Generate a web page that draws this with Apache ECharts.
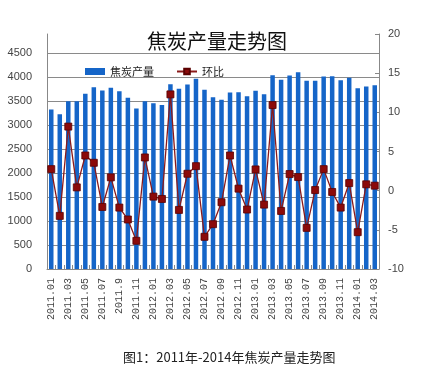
<!DOCTYPE html>
<html>
<head>
<meta charset="utf-8">
<script src="https://cdn.jsdelivr.net/npm/echarts@6/dist/echarts.min.js"></script>
<style>
html,body{margin:0;padding:0;background:#fff;}
#chart{width:422px;height:374px;}
</style>
</head>
<body>
<div id="chart"></div>
<script>
const categories = [
  "2011.01","2011.02","2011.03","2011.04","2011.05","2011.06","2011.07","2011.08","2011.9","2011.10","2011.11","2011.12",
  "2012.01","2012.02","2012.03","2012.04","2012.05","2012.06","2012.07","2012.08","2012.09","2012.10","2012.11","2012.12",
  "2013.01","2013.02","2013.03","2013.04","2013.05","2013.06","2013.07","2013.08","2013.09","2013.10","2013.11","2013.12",
  "2014.01","2014.02","2014.03"
];
const production = [
  3327,3229,3500,3500,3653,3792,3722,3778,3708,3569,3347,3500,
  3458,3417,3854,3757,3847,3965,3736,3583,3528,3681,3688,3604,
  3715,3646,4042,3944,4035,4104,3924,3924,4014,4021,3938,3986,
  3771,3806,3833
];
const momChange = [
  2.75,-3.22,8.18,0.42,4.49,3.56,-2.08,1.70,-2.16,-3.68,-6.40,4.24,
  -0.76,-1.06,12.29,-2.46,2.16,3.13,-5.89,-4.28,-1.48,4.49,0.26,-2.41,
  2.71,-1.78,10.93,-2.59,2.12,1.74,-4.75,0.08,2.75,-0.17,-2.16,0.97,
  -5.30,0.81,0.64
];
const seriesNames = ["焦炭产量","环比"];
const titleText = "焦炭产量走势图";
const captionText = "图1：2011年-2014年焦炭产量走势图";

const chart = echarts.init(document.getElementById('chart'), null, {renderer:'canvas'});
const sans = '"Noto Sans CJK SC", "Liberation Sans", sans-serif';
chart.setOption({
  animation:false,
  backgroundColor:'#ffffff',
  title:{
    text:titleText, left:212, top:26, textAlign:'center',
    textStyle:{fontFamily:sans, fontSize:20, fontWeight:'normal', color:'#111'}
  },
  legend:{
    left:80, top:61, itemWidth:20, itemHeight:7, itemGap:22,
    textStyle:{fontFamily:sans, fontSize:11, color:'#222'},
    data:[{name:seriesNames[0], icon:'rect'},{name:seriesNames[1]}]
  },
  grid:{left:47, right:43, top:34, bottom:105},
  xAxis:{
    type:'category', data:categories, boundaryGap:true,
    axisLine:{lineStyle:{color:'#888'}},
    axisTick:{show:true, inside:true, length:4, interval:0, lineStyle:{color:'#888'}},
    axisLabel:{interval:1, rotate:90, margin:9, fontFamily:'"Liberation Mono", monospace', fontSize:10, color:'#444'}
  },
  yAxis:[
    {
      type:'value', min:0, max:4900, interval:500, position:'left',
      axisLine:{show:true, lineStyle:{color:'#888'}},
      axisTick:{show:false},
      axisLabel:{showMaxLabel:false, margin:15, formatter:function(v){return String(v);}, fontFamily:'"Liberation Sans", sans-serif', fontSize:11, color:'#444'},
      splitLine:{show:true, showMaxLine:false, lineStyle:{color:'#8a8a8a', width:1}}
    },
    {
      type:'value', min:-10, max:20, interval:5, position:'right',
      axisLine:{show:true, lineStyle:{color:'#888'}},
      axisTick:{show:true, inside:true, length:4, lineStyle:{color:'#888'}},
      axisLabel:{margin:9, formatter:function(v){return String(v);}, fontFamily:'"Liberation Sans", sans-serif', fontSize:11, color:'#444'},
      splitLine:{show:false}
    }
  ],
  series:[
    {
      name:seriesNames[0], type:'bar', yAxisIndex:0, data:production,
      barWidth:4.5, itemStyle:{color:'#1565c8'}
    },
    {
      name:seriesNames[1], type:'line', yAxisIndex:1, data:momChange,
      symbol:'rect', symbolSize:7, showAllSymbol:true, z:5,
      lineStyle:{color:'#8b1a1a', width:1.3},
      itemStyle:{color:'#8b0a0a', borderColor:'#5a0000', borderWidth:0.8}
    }
  ],
  graphic:[{
    type:'text', left:123, top:351,
    style:{text:captionText, font:'13px "Noto Sans CJK SC", sans-serif', fill:'#222'}
  }]
});
</script>
</body>
</html>
